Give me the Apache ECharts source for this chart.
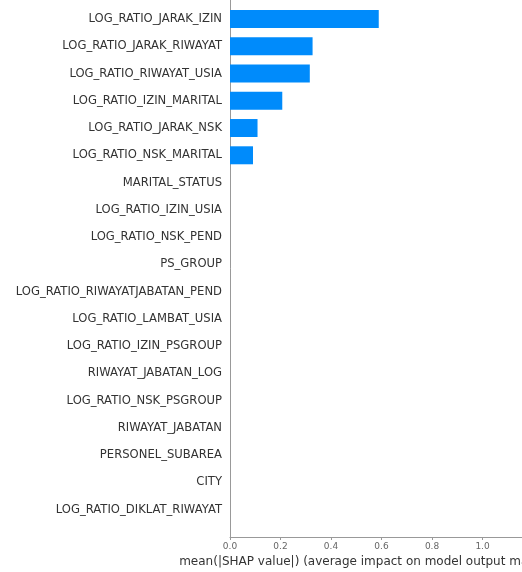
<!DOCTYPE html>
<html>
<head>
<meta charset="utf-8">
<script src="https://cdn.jsdelivr.net/npm/echarts@6/dist/echarts.min.js"></script>
<style>
  html, body { margin: 0; padding: 0; background: #fff; }
  #chart { width: 522px; height: 572px; }
</style>
</head>
<body>
<div id="chart"></div>
<script>
// Features ordered from most to least important (top to bottom)
const features = [
  'LOG_RATIO_JARAK_IZIN',
  'LOG_RATIO_JARAK_RIWAYAT',
  'LOG_RATIO_RIWAYAT_USIA',
  'LOG_RATIO_IZIN_MARITAL',
  'LOG_RATIO_JARAK_NSK',
  'LOG_RATIO_NSK_MARITAL',
  'MARITAL_STATUS',
  'LOG_RATIO_IZIN_USIA',
  'LOG_RATIO_NSK_PEND',
  'PS_GROUP',
  'LOG_RATIO_RIWAYATJABATAN_PEND',
  'LOG_RATIO_LAMBAT_USIA',
  'LOG_RATIO_IZIN_PSGROUP',
  'RIWAYAT_JABATAN_LOG',
  'LOG_RATIO_NSK_PSGROUP',
  'RIWAYAT_JABATAN',
  'PERSONEL_SUBAREA',
  'CITY',
  'LOG_RATIO_DIKLAT_RIWAYAT'
];

// mean(|SHAP value|) per feature
const meanAbsShap = [
  0.589, 0.327, 0.316, 0.207, 0.109, 0.091,
  0, 0, 0, 0, 0, 0, 0, 0, 0, 0, 0, 0, 0
];

const xTicks = [0.0, 0.2, 0.4, 0.6, 0.8, 1.0];

const chart = echarts.init(document.getElementById('chart'));

const option = {
  animation: false,
  backgroundColor: '#ffffff',
  grid: {
    left: 230, right: -6, top: -8.3, bottom: 35,
    containLabel: false,
    outerBoundsMode: 'none'
  },
  xAxis: {
    type: 'value',
    min: 0,
    max: 1.18,
    interval: 0.2,
    axisLine: { show: true, onZero: false, lineStyle: { color: '#999', width: 1 } },
    axisTick: { show: true, length: 3, lineStyle: { color: '#999' } },
    axisLabel: {
      showMaxLabel: false,
      fontFamily: 'DejaVu Sans',
      fontSize: 9,
      color: '#666',
      margin: 5,
      formatter: v => (xTicks.some(t => Math.abs(t - v) < 1e-6) ? v.toFixed(1) : '')
    },
    splitLine: { show: false },
    name: 'mean(|SHAP value|) (average impact on model output magnitude)',
    nameLocation: 'middle',
    nameGap: 19,
    nameTextStyle: { fontFamily: 'DejaVu Sans', fontSize: 12, color: '#333' }
  },
  yAxis: {
    type: 'value',
    inverse: true,
    min: -1,
    max: features.length,
    interval: 1,
    axisLine: { show: true, onZero: false, lineStyle: { color: '#999', width: 1 } },
    axisTick: { show: false },
    splitLine: { show: false },
    axisLabel: {
      fontFamily: 'DejaVu Sans',
      fontSize: 11.6,
      color: '#333',
      margin: 8,
      showMinLabel: false,
      showMaxLabel: false,
      formatter: v => features[v] || ''
    }
  },
  series: [{
    type: 'custom',
    data: meanAbsShap.map((v, i) => [v, i]),
    encode: { x: 0, y: 1 },
    itemStyle: { color: '#008bfb' },
    renderItem: (params, api) => {
      const v = api.value(0);
      const i = api.value(1);
      const start = api.coord([0, i]);
      const end = api.coord([v, i]);
      const h = api.size([0, 1])[1] * 0.66;
      return {
        type: 'rect',
        shape: { x: start[0], y: start[1] - h / 2, width: end[0] - start[0], height: h },
        style: api.style()
      };
    }
  }]
};

chart.setOption(option);
</script>
</body>
</html>
